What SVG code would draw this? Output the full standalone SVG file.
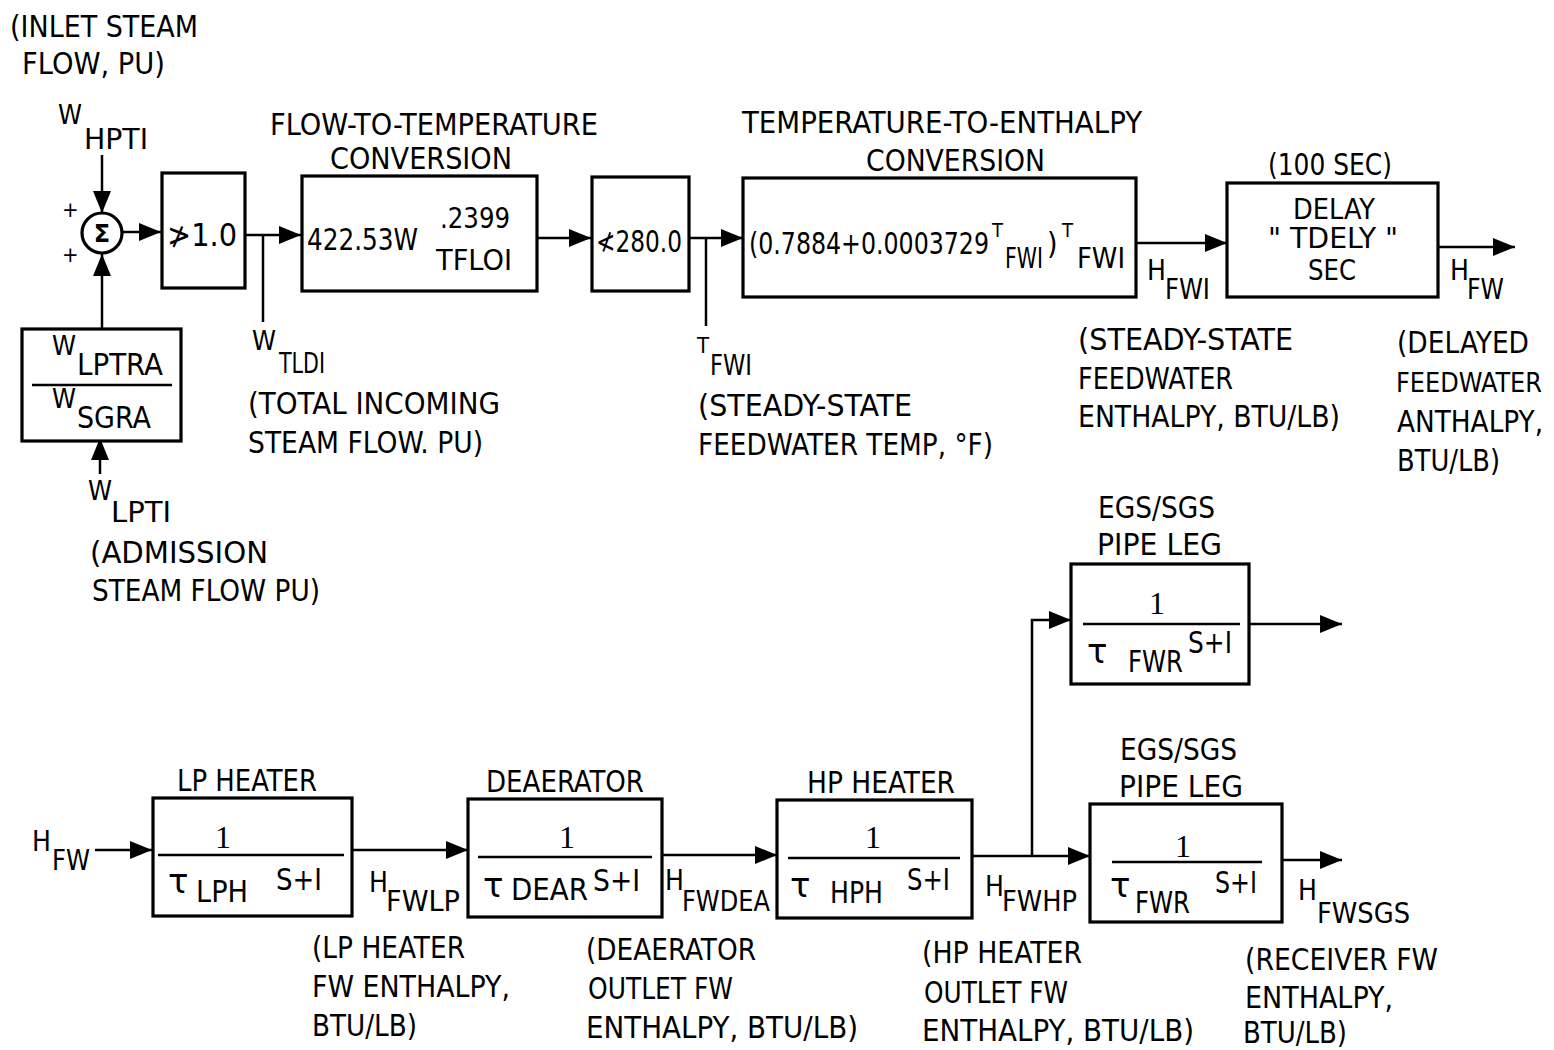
<svg xmlns="http://www.w3.org/2000/svg" width="1554" height="1050" viewBox="0 0 1554 1050">
<style>
text{font-family:"Liberation Sans Narrow","DejaVu Sans Condensed","Liberation Sans",sans-serif;font-size:30px;fill:#000}
.sm{font-size:27px}
.sub{font-size:28px}
.tiny{font-size:20px}
.dl{font-size:28px}
.num{font-family:"Liberation Serif",serif;font-size:32px}
.tau{font-family:"DejaVu Sans",sans-serif;font-size:34px}
.box{fill:#fff;stroke:#000;stroke-width:3.2}
.frac{stroke:#000;stroke-width:2.5}
.con{fill:none;stroke:#000;stroke-width:2.5}
</style>
<defs>
<marker id="ah" markerUnits="userSpaceOnUse" markerWidth="22" markerHeight="18" refX="22" refY="9" orient="auto">
<path d="M0,0 L22,9 L0,18 z" fill="#000"/>
</marker>
</defs>
<rect width="1554" height="1050" fill="#fff"/>

<g id="connectors">
<line class="con" x1="102" y1="155" x2="102" y2="213" marker-end="url(#ah)"/>
<line class="con" x1="102" y1="328" x2="102" y2="254" marker-end="url(#ah)"/>
<line class="con" x1="122" y1="232" x2="161" y2="232" marker-end="url(#ah)"/>
<line class="con" x1="245" y1="235" x2="301" y2="235" marker-end="url(#ah)"/>
<line class="con" x1="263" y1="235" x2="263" y2="322"/>
<line class="con" x1="537" y1="238" x2="591" y2="238" marker-end="url(#ah)"/>
<line class="con" x1="689" y1="238" x2="743" y2="238" marker-end="url(#ah)"/>
<line class="con" x1="706" y1="238" x2="706" y2="326"/>
<line class="con" x1="1136" y1="243" x2="1227" y2="243" marker-end="url(#ah)"/>
<line class="con" x1="1438" y1="247" x2="1515" y2="247" marker-end="url(#ah)"/>
<line class="con" x1="100" y1="474" x2="100" y2="438" marker-end="url(#ah)"/>
<line class="con" x1="95" y1="850" x2="152" y2="850" marker-end="url(#ah)"/>
<line class="con" x1="352" y1="850" x2="468" y2="850" marker-end="url(#ah)"/>
<line class="con" x1="662" y1="855" x2="777" y2="855" marker-end="url(#ah)"/>
<line class="con" x1="972" y1="856" x2="1090" y2="856" marker-end="url(#ah)"/>
<polyline class="con" points="1032,856 1032,620 1071,620" marker-end="url(#ah)"/>
<line class="con" x1="1249" y1="624" x2="1342" y2="624" marker-end="url(#ah)"/>
<line class="con" x1="1282" y1="860" x2="1342" y2="860" marker-end="url(#ah)"/>
</g>

<g id="label-inlet">
<text x="10" y="37" textLength="188" lengthAdjust="spacingAndGlyphs">(INLET STEAM</text>
<text x="22" y="74" textLength="143" lengthAdjust="spacingAndGlyphs">FLOW, PU)</text>
<text class="sm" x="58" y="124">W</text>
<text class="sub" x="84" y="149" textLength="64" lengthAdjust="spacingAndGlyphs">HPTI</text>
</g>

<g id="sum">
<circle cx="102" cy="233" r="20" fill="#fff" stroke="#000" stroke-width="3.2"/>
<text x="102" y="242" text-anchor="middle" style="font-family:'DejaVu Sans',sans-serif;font-size:24px;font-weight:bold">Σ</text>
<text x="62" y="217" style="font-size:22px">+</text>
<text x="62" y="262" style="font-size:22px">+</text>
</g>

<g id="limit1">
<rect class="box" x="162" y="173" width="83" height="115"/>
<text x="167" y="246" style="font-size:32px" textLength="70" lengthAdjust="spacingAndGlyphs">≯1.0</text>
</g>

<g id="flow-to-temp">
<text x="270" y="135" textLength="328" lengthAdjust="spacingAndGlyphs">FLOW-TO-TEMPERATURE</text>
<text x="330" y="169" textLength="182" lengthAdjust="spacingAndGlyphs">CONVERSION</text>
<rect class="box" x="302" y="176" width="235" height="115"/>
<text x="307" y="250" textLength="111" lengthAdjust="spacingAndGlyphs">422.53W</text>
<text class="sub" x="440" y="228" textLength="70" lengthAdjust="spacingAndGlyphs">.2399</text>
<text class="sub" x="436" y="270" textLength="76" lengthAdjust="spacingAndGlyphs">TFLOI</text>
</g>

<g id="limit2">
<rect class="box" x="592" y="177" width="97" height="114"/>
<text x="596" y="252" textLength="86" lengthAdjust="spacingAndGlyphs">≮280.0</text>
</g>

<g id="temp-to-enthalpy">
<text x="742" y="133" textLength="400" lengthAdjust="spacingAndGlyphs">TEMPERATURE-TO-ENTHALPY</text>
<text x="866" y="171" textLength="179" lengthAdjust="spacingAndGlyphs">CONVERSION</text>
<rect class="box" x="743" y="178" width="393" height="119"/>
<text x="749" y="254" textLength="240" lengthAdjust="spacingAndGlyphs">(0.7884+0.0003729</text>
<text class="tiny" x="992" y="237">T</text>
<text class="sub" x="1005" y="268" textLength="38" lengthAdjust="spacingAndGlyphs">FWI</text>
<text x="1047" y="254">)</text>
<text class="tiny" x="1062" y="237">T</text>
<text class="sub" x="1077" y="268" textLength="48" lengthAdjust="spacingAndGlyphs">FWI</text>
</g>

<g id="delay">
<text x="1268" y="175" textLength="124" lengthAdjust="spacingAndGlyphs">(100 SEC)</text>
<rect class="box" x="1227" y="183" width="211" height="114"/>
<text class="dl" x="1293" y="219" textLength="82" lengthAdjust="spacingAndGlyphs">DELAY</text>
<text class="dl" x="1268" y="248" textLength="130" lengthAdjust="spacingAndGlyphs">" TDELY "</text>
<text class="dl" x="1308" y="280" textLength="48" lengthAdjust="spacingAndGlyphs">SEC</text>
</g>

<g id="label-hfwi">
<text class="sub" x="1147" y="280">H</text>
<text class="sub" x="1165" y="299" textLength="45" lengthAdjust="spacingAndGlyphs">FWI</text>
<text x="1078" y="350" textLength="215" lengthAdjust="spacingAndGlyphs">(STEADY-STATE</text>
<text x="1078" y="389" textLength="155" lengthAdjust="spacingAndGlyphs">FEEDWATER</text>
<text x="1078" y="427" textLength="262" lengthAdjust="spacingAndGlyphs">ENTHALPY, BTU/LB)</text>
</g>

<g id="label-hfw">
<text class="sub" x="1450" y="280">H</text>
<text class="sub" x="1467" y="299" textLength="37" lengthAdjust="spacingAndGlyphs">FW</text>
<text x="1397" y="353" textLength="132" lengthAdjust="spacingAndGlyphs">(DELAYED</text>
<text x="1396" y="392" style="font-size:27px" textLength="146" lengthAdjust="spacingAndGlyphs">FEEDWATER</text>
<text x="1397" y="432" textLength="146" lengthAdjust="spacingAndGlyphs">ANTHALPY,</text>
<text x="1397" y="471" textLength="103" lengthAdjust="spacingAndGlyphs">BTU/LB)</text>
</g>

<g id="label-wtldi">
<text class="sm" x="252" y="350">W</text>
<text class="sub" x="279" y="373" textLength="46" lengthAdjust="spacingAndGlyphs">TLDI</text>
<text x="248" y="414" textLength="252" lengthAdjust="spacingAndGlyphs">(TOTAL INCOMING</text>
<text x="248" y="453" textLength="235" lengthAdjust="spacingAndGlyphs">STEAM FLOW. PU)</text>
</g>

<g id="label-tfwi">
<text class="tiny" x="697" y="353" style="font-size:22px">T</text>
<text class="sub" x="710" y="375" textLength="42" lengthAdjust="spacingAndGlyphs">FWI</text>
<text x="698" y="416" textLength="214" lengthAdjust="spacingAndGlyphs">(STEADY-STATE</text>
<text x="698" y="455" textLength="295" lengthAdjust="spacingAndGlyphs">FEEDWATER TEMP, °F)</text>
</g>

<g id="ratio">
<rect class="box" x="22" y="329" width="159" height="112"/>
<text class="sm" x="52" y="355">W</text>
<text x="77" y="375" textLength="86" lengthAdjust="spacingAndGlyphs">LPTRA</text>
<line class="frac" x1="32" y1="385" x2="172" y2="385"/>
<text class="sm" x="52" y="408">W</text>
<text x="77" y="428" textLength="74" lengthAdjust="spacingAndGlyphs">SGRA</text>
</g>

<g id="label-wlpti">
<text class="sm" x="88" y="500">W</text>
<text class="sub" x="111" y="522" textLength="60" lengthAdjust="spacingAndGlyphs">LPTI</text>
<text x="90" y="563" textLength="178" lengthAdjust="spacingAndGlyphs">(ADMISSION</text>
<text x="92" y="601" textLength="228" lengthAdjust="spacingAndGlyphs">STEAM FLOW PU)</text>
</g>

<g id="label-hfw-in">
<text class="sub" x="32" y="851">H</text>
<text class="sub" x="52" y="870" textLength="38" lengthAdjust="spacingAndGlyphs">FW</text>
</g>

<g id="lp-heater">
<text x="177" y="791" textLength="140" lengthAdjust="spacingAndGlyphs">LP HEATER</text>
<rect class="box" x="153" y="798" width="199" height="118"/>
<text class="num" x="223" y="848" text-anchor="middle">1</text>
<line class="frac" x1="158" y1="855" x2="344" y2="855"/>
<text class="tau" x="168" y="893">τ</text>
<text x="196" y="902" textLength="52" lengthAdjust="spacingAndGlyphs">LPH</text>
<text x="276" y="890" textLength="46" lengthAdjust="spacingAndGlyphs">S+I</text>
</g>

<g id="label-hfwlp">
<text class="sub" x="369" y="892">H</text>
<text class="sub" x="386" y="911" textLength="74" lengthAdjust="spacingAndGlyphs">FWLP</text>
<text x="312" y="958" textLength="153" lengthAdjust="spacingAndGlyphs">(LP HEATER</text>
<text x="312" y="997" textLength="198" lengthAdjust="spacingAndGlyphs">FW ENTHALPY,</text>
<text x="312" y="1036" textLength="105" lengthAdjust="spacingAndGlyphs">BTU/LB)</text>
</g>

<g id="deaerator">
<text x="486" y="792" textLength="158" lengthAdjust="spacingAndGlyphs">DEAERATOR</text>
<rect class="box" x="468" y="799" width="194" height="118"/>
<text class="num" x="567" y="848" text-anchor="middle">1</text>
<line class="frac" x1="478" y1="857" x2="652" y2="857"/>
<text class="tau" x="483" y="897">τ</text>
<text x="511" y="900" textLength="77" lengthAdjust="spacingAndGlyphs">DEAR</text>
<text x="593" y="891" textLength="47" lengthAdjust="spacingAndGlyphs">S+I</text>
</g>

<g id="label-hfwdea">
<text class="sub" x="665" y="890">H</text>
<text class="sub" x="682" y="911" textLength="88" lengthAdjust="spacingAndGlyphs">FWDEA</text>
<text x="586" y="960" textLength="170" lengthAdjust="spacingAndGlyphs">(DEAERATOR</text>
<text x="588" y="999" textLength="145" lengthAdjust="spacingAndGlyphs">OUTLET FW</text>
<text x="586" y="1038" textLength="272" lengthAdjust="spacingAndGlyphs">ENTHALPY, BTU/LB)</text>
</g>

<g id="hp-heater">
<text x="807" y="793" textLength="148" lengthAdjust="spacingAndGlyphs">HP HEATER</text>
<rect class="box" x="777" y="800" width="195" height="118"/>
<text class="num" x="873" y="848" text-anchor="middle">1</text>
<line class="frac" x1="788" y1="858" x2="960" y2="858"/>
<text class="tau" x="790" y="897">τ</text>
<text x="830" y="903" textLength="53" lengthAdjust="spacingAndGlyphs">HPH</text>
<text x="907" y="890" textLength="43" lengthAdjust="spacingAndGlyphs">S+I</text>
</g>

<g id="label-hfwhp">
<text class="sub" x="985" y="896">H</text>
<text class="sub" x="1002" y="911" textLength="75" lengthAdjust="spacingAndGlyphs">FWHP</text>
<text x="922" y="963" textLength="160" lengthAdjust="spacingAndGlyphs">(HP HEATER</text>
<text x="924" y="1003" textLength="144" lengthAdjust="spacingAndGlyphs">OUTLET FW</text>
<text x="922" y="1041" textLength="272" lengthAdjust="spacingAndGlyphs">ENTHALPY, BTU/LB)</text>
</g>

<g id="pipe-leg-1">
<text x="1098" y="518" textLength="117" lengthAdjust="spacingAndGlyphs">EGS/SGS</text>
<text x="1097" y="555" textLength="125" lengthAdjust="spacingAndGlyphs">PIPE LEG</text>
<rect class="box" x="1071" y="564" width="178" height="120"/>
<text class="num" x="1157" y="614" text-anchor="middle">1</text>
<line class="frac" x1="1083" y1="624" x2="1240" y2="624"/>
<text class="tau" x="1087" y="663">τ</text>
<text x="1128" y="672" textLength="55" lengthAdjust="spacingAndGlyphs">FWR</text>
<text x="1188" y="653" textLength="44" lengthAdjust="spacingAndGlyphs">S+I</text>
</g>

<g id="pipe-leg-2">
<text x="1120" y="760" textLength="117" lengthAdjust="spacingAndGlyphs">EGS/SGS</text>
<text x="1119" y="797" textLength="124" lengthAdjust="spacingAndGlyphs">PIPE LEG</text>
<rect class="box" x="1090" y="804" width="192" height="118"/>
<text class="num" x="1183" y="857" text-anchor="middle">1</text>
<line class="frac" x1="1112" y1="862" x2="1262" y2="862"/>
<text class="tau" x="1110" y="897">τ</text>
<text x="1135" y="913" textLength="55" lengthAdjust="spacingAndGlyphs">FWR</text>
<text x="1215" y="893" textLength="42" lengthAdjust="spacingAndGlyphs">S+I</text>
</g>

<g id="label-hfwsgs">
<text class="sub" x="1298" y="900">H</text>
<text class="sub" x="1317" y="923" textLength="93" lengthAdjust="spacingAndGlyphs">FWSGS</text>
<text x="1245" y="970" textLength="193" lengthAdjust="spacingAndGlyphs">(RECEIVER FW</text>
<text x="1245" y="1008" textLength="148" lengthAdjust="spacingAndGlyphs">ENTHALPY,</text>
<text x="1243" y="1043" textLength="104" lengthAdjust="spacingAndGlyphs">BTU/LB)</text>
</g>
</svg>
